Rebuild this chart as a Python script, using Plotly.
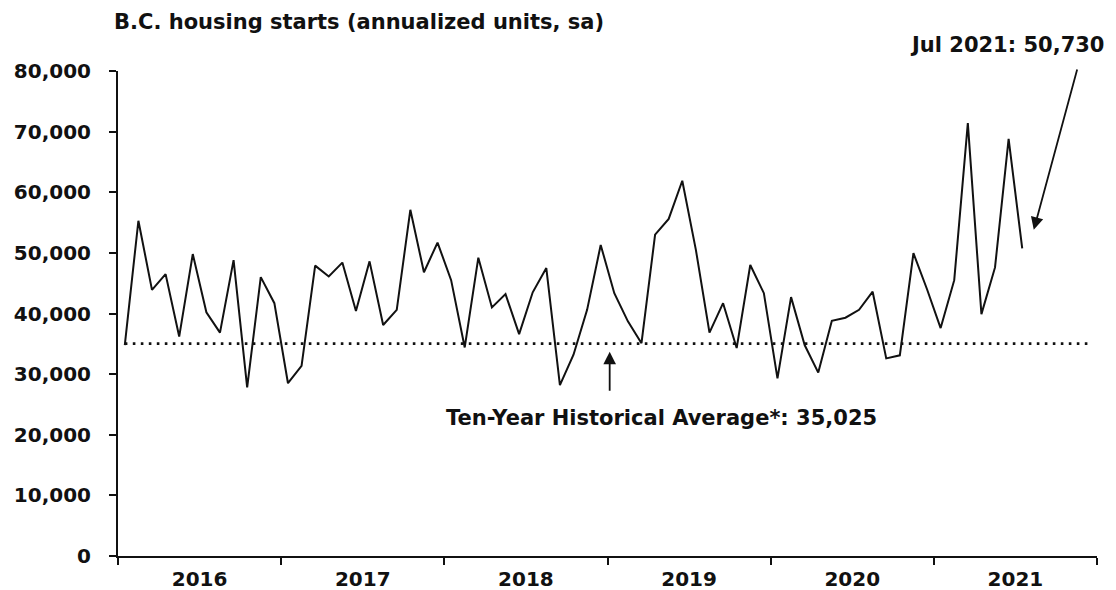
import plotly.graph_objects as go

# ---- data ----
months = [f"{y}-{m:02d}" for y in range(2016, 2022) for m in range(1, 13)][:67]
starts = [34800, 55300, 43900, 46500, 36200, 49800, 40200, 36850, 48800, 27800, 46000, 41700,
          28500, 31350, 47900, 46100, 48400, 40400, 48600, 38100, 40600, 57100, 46800, 51700,
          45500, 34400, 49200, 41000, 43200, 36600, 43500, 47500, 28200, 33200, 40600, 51300,
          43350, 38700, 35100, 53000, 55600, 61900, 50500, 36850, 41700, 34300, 48000, 43350,
          29300, 42700, 34800, 30250, 38800, 39300, 40600, 43600, 32600, 33100, 49950, 44000,
          37600, 45500, 71400, 39900, 47600, 68800, 50730]
ten_year_avg = 35025
years = ["2016", "2017", "2018", "2019", "2020", "2021"]
y_ticks = [0, 10000, 20000, 30000, 40000, 50000, 60000, 70000, 80000]
title_text = "B.C. housing starts (annualized units, sa)"
avg_label = "Ten-Year Historical Average*: 35,025"
last_label = "Jul 2021: 50,730"

FONT = "DejaVu Sans"
INK = "#111111"

x_idx = list(range(len(months)))
n_slots = 12 * len(years)

fig = go.Figure()
fig.add_trace(go.Scatter(
    x=[0, n_slots - 1], y=[ten_year_avg, ten_year_avg], mode="lines",
    line=dict(color=INK, width=2.6, dash="2.6px,5.4px"), hoverinfo="skip", showlegend=False))
fig.add_trace(go.Scatter(
    x=x_idx, y=starts, mode="lines", customdata=months,
    line=dict(color=INK, width=2), showlegend=False))

year_centers = [12 * i + 5.5 for i in range(len(years))]
year_bounds = [12 * i - 0.5 for i in range(len(years) + 1)]

fig.update_xaxes(
    range=[-0.5, n_slots - 0.5], tickmode="array", tickvals=year_centers, ticktext=years,
    ticks="", showline=True, linecolor=INK, linewidth=2, showgrid=False, zeroline=False,
    automargin=False,
    tickfont=dict(family=FONT, size=20, color=INK, weight="bold"), ticklabelstandoff=4,
    minor=dict(tickmode="array", tickvals=year_bounds, ticks="outside", ticklen=7,
               tickwidth=1.5, tickcolor=INK, showgrid=False))
fig.update_yaxes(
    range=[0, 80000], tickmode="array", tickvals=y_ticks, tickformat=",",
    ticks="outside", ticklen=7, tickwidth=1.5, tickcolor=INK,
    showline=True, linecolor=INK, linewidth=2, showgrid=False, zeroline=False,
    automargin=False,
    tickfont=dict(family=FONT, size=20, color=INK, weight="bold"), ticklabelstandoff=14)

fig.add_annotation(xref="paper", yref="paper", x=-0.006, y=1.101, xanchor="left", yanchor="middle",
                   text=f"<b>{title_text}</b>", showarrow=False,
                   font=dict(family=FONT, size=21, color=INK))
# arrow to average line
fig.add_annotation(x=35.66, y=33700, ax=35.66, ay=27000, axref="x", ayref="y",
                   text="", showarrow=True, arrowhead=2, arrowsize=1.4, arrowwidth=1.8,
                   arrowcolor=INK)
fig.add_annotation(x=39.5, y=22800, text=f"<b>{avg_label}</b>", showarrow=False,
                   xanchor="center", yanchor="middle", font=dict(family=FONT, size=21, color=INK))
# arrow to last point
fig.add_annotation(x=66.85, y=53800, ax=70.07, ay=80500, axref="x", ayref="y",
                   text="", showarrow=True, arrowhead=2, arrowsize=1.4, arrowwidth=1.8,
                   arrowcolor=INK)
fig.add_annotation(xref="paper", yref="paper", x=0.908, y=1.053, xanchor="center", yanchor="middle",
                   text=f"<b>{last_label}</b>", showarrow=False,
                   font=dict(family=FONT, size=21, color=INK))

fig.update_layout(width=1116, height=590, margin=dict(l=118, r=19, t=71, b=34, autoexpand=False),
                  paper_bgcolor="white", plot_bgcolor="white", showlegend=False,
                  font=dict(family=FONT, color=INK))

fig.write_html("out.html", config={"displayModeBar": False},
               post_script="document.body.style.margin='0px';")
